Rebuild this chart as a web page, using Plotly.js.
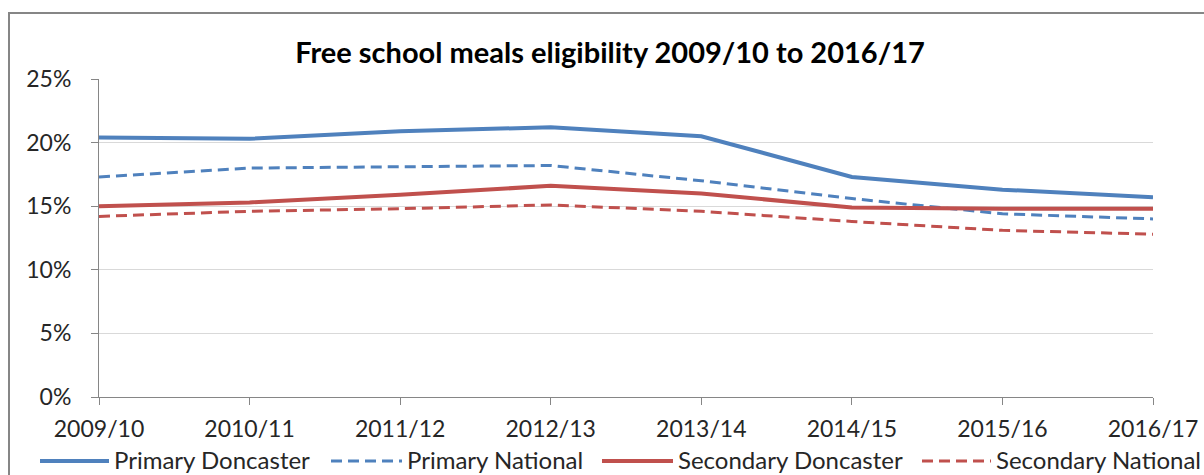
<!DOCTYPE html>
<html>
<head>
<meta charset="utf-8">
<script src="https://cdn.plot.ly/plotly-3.0.1.min.js"></script>
<style>html,body{margin:0;padding:0;background:#fff;}#chart{width:1204px;height:475px;}</style>
</head>
<body>
<div id="chart"></div>
<script>
var years = ["2009/10","2010/11","2011/12","2012/13","2013/14","2014/15","2015/16","2016/17"];
var seriesNames = ["Primary Doncaster","Primary National","Secondary Doncaster","Secondary National"];
var primaryDoncaster   = [20.4, 20.3, 20.9, 21.2, 20.5, 17.3, 16.3, 15.7];
var primaryNational    = [17.3, 18.0, 18.1, 18.2, 17.0, 15.6, 14.4, 14.0];
var secondaryDoncaster = [15.0, 15.3, 15.9, 16.6, 16.0, 14.9, 14.8, 14.8];
var secondaryNational  = [14.2, 14.6, 14.8, 15.1, 14.6, 13.8, 13.1, 12.8];
var yTicks = [0, 5, 10, 15, 20, 25];
var yTickText = ["0%","5%","10%","15%","20%","25%"];

var BLUE = "#4F81BD", RED = "#C0504D";
var styles = [
  {color: BLUE, width: 4, dash: "solid"},
  {color: BLUE, width: 3, dash: "11px,6px"},
  {color: RED,  width: 4, dash: "solid"},
  {color: RED,  width: 3, dash: "11px,6px"}
];
var values = [primaryDoncaster, primaryNational, secondaryDoncaster, secondaryNational];

var FONT = "Lato, 'Open Sans', sans-serif";
var TXT = "#262626";

var traces = values.map(function(v, i){
  return {
    type: "scatter", mode: "lines", x: years, y: v, name: seriesNames[i],
    line: {color: styles[i].color, width: styles[i].width, dash: styles[i].dash, shape: "linear"},
    hoverinfo: "x+y+name", showlegend: false
  };
});

// plot area in pixels: x 99..1153, y 79..397
var L = 99, R = 1153, T = 79, B = 397, W = 1204, H = 475;
function px(x){ return (x - L) / (R - L); }
function py(y){ return (B - y) / (B - T); }

var shapes = [{
  type: "rect", xref: "paper", yref: "paper",
  x0: px(9), x1: px(1230), y0: py(13), y1: py(520),
  line: {color: "#868686", width: 2}, layer: "below"
}];
var annotations = [];
var legendLine = [[40,109],[331,402],[602,673],[922,991]];
var legendY = py(459.5);
for (var i = 0; i < 4; i++) {
  shapes.push({
    type: "line", xref: "paper", yref: "paper",
    x0: px(legendLine[i][0]), x1: px(legendLine[i][1]), y0: py(461), y1: py(461),
    line: {color: styles[i].color, width: styles[i].width, dash: styles[i].dash}
  });
  annotations.push({
    xref: "paper", yref: "paper", x: px(legendLine[i][1] + 4), y: legendY,
    xanchor: "left", yanchor: "middle", showarrow: false, borderpad: 0,
    text: seriesNames[i], font: {family: FONT, size: 24, color: TXT}
  });
}

var layout = {
  width: W, height: H,
  margin: {l: L, r: W - R, t: T, b: H - B, pad: 0},
  paper_bgcolor: "#ffffff", plot_bgcolor: "#ffffff",
  showlegend: false,
  title: {
    text: "<b>Free school meals eligibility 2009/10 to 2016/17</b>",
    font: {family: FONT, size: 29, color: "#000000"},
    x: 610 / W, xref: "container", xanchor: "center",
    y: 1 - 53 / H, yref: "container", yanchor: "middle"
  },
  xaxis: {
    type: "category", range: [0, 7], showgrid: false, zeroline: false,
    showline: true, linecolor: "#868686", linewidth: 1,
    ticks: "outside", ticklen: 7, tickcolor: "#868686", tickwidth: 1,
    tickfont: {family: FONT, size: 23, color: TXT},
    ticklabelstandoff: 4
  },
  yaxis: {
    range: [0, 25], tickvals: yTicks, ticktext: yTickText,
    showgrid: true, gridcolor: "#D9D9D9", gridwidth: 1, zeroline: false,
    showline: true, linecolor: "#868686", linewidth: 1,
    ticks: "outside", ticklen: 7, tickcolor: "#868686", tickwidth: 1,
    tickfont: {family: FONT, size: 23, color: TXT},
    ticklabelstandoff: 15
  },
  shapes: shapes,
  annotations: annotations
};

Plotly.newPlot("chart", traces, layout, {displayModeBar: false, staticPlot: true});
</script>
</body>
</html>
